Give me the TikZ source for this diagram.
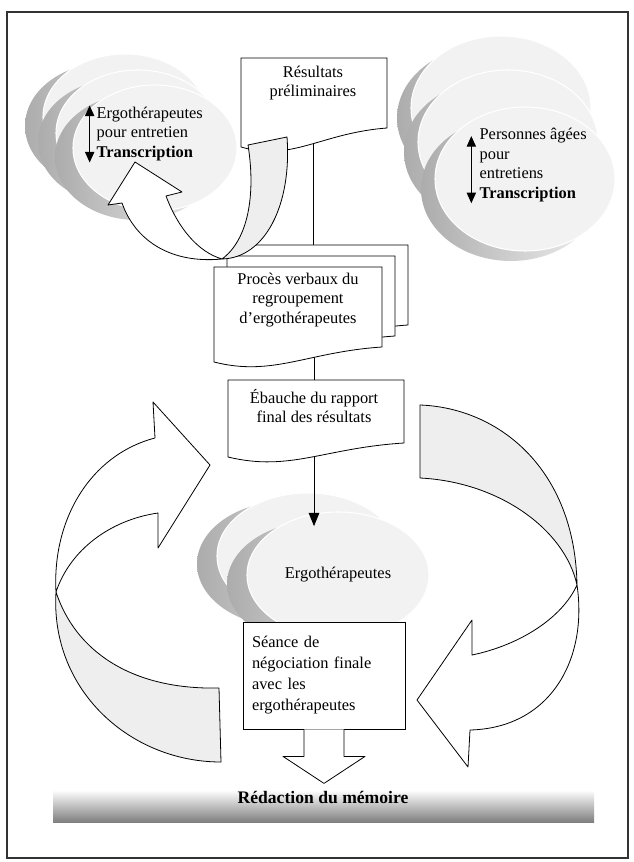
\documentclass[tikz,border=0pt]{standalone}
\usepackage{fontspec}
\setmainfont{Liberation Serif}
\usetikzlibrary{arrows.meta, shapes.geometric, calc, backgrounds}

\tikzset{
  docline/.style={draw=black, fill=white, line width=0.6pt},
  doctext/.style={align=center, inner sep=1pt},
  disctop/.style={fill=gray!10, draw=white, line width=0.8pt},
  discside/.style={left color=gray!65, right color=gray!12},
  ribbon/.style={draw=black, fill=white, line width=0.6pt, line join=round},
  ribbonback/.style={draw=black, fill=gray!13, line width=0.6pt, line join=round},
  twohead/.style={{Triangle[length=8pt,width=7pt]}-{Triangle[length=8pt,width=7pt]}, line width=0.8pt},
}

\begin{document}
\begin{tikzpicture}[x=0.75pt, y=-0.75pt, font=\fontsize{12.3}{14.6}\selectfont]
  \useasboundingbox (0,0) rectangle (633,862);
  \draw[line width=0.8pt, black!80] (7,12) rectangle (628,858);

  % big loop arrows, left and right
  \draw[ribbonback] (56,592) .. controls (50,690) and (130,762) .. (221,762) -- (219,688) .. controls (130,690) and (75,650) .. (56,592) -- cycle;
  \draw[ribbon] (56,592) .. controls (52,520) and (90,455) .. (155,438) -- (153,402) -- (210,465) -- (158,548) -- (158,513) .. controls (110,520) and (70,550) .. (56,592) -- cycle;

  \draw[ribbonback] (420,405) .. controls (500,408) and (575,470) .. (577,585) .. controls (565,530) and (500,482) .. (420,478) -- cycle;
  \draw[ribbon] (577,585) .. controls (588,660) and (550,728) .. (470,730) -- (468,767) -- (417,700) -- (472,620) -- (472,655) .. controls (520,645) and (562,618) .. (577,585) -- cycle;

  % discs top left
  \foreach \cx/\cy in {125/117, 138/133, 155/148} {
    \shade[discside] (\cx-18,\cy+9) ellipse [x radius=82, y radius=63];
    \draw[disctop] (\cx,\cy) ellipse [x radius=82, y radius=63];
  }
  \node[anchor=west, align=left, inner sep=1pt] (ergoL) at (95,134) {Ergothérapeutes\\pour entretien\\\textbf{Transcription}};
  \draw[twohead] ([xshift=-4pt]ergoL.north west) -- ([xshift=-4pt]ergoL.south west);

  % discs top right
  \foreach \cx/\cy in {501/108, 508/142, 525/179} {
    \shade[discside] (\cx-14,\cy+10) ellipse [x radius=90, y radius=72];
    \draw[disctop] (\cx,\cy) ellipse [x radius=90, y radius=72];
  }
  \node[anchor=west, align=left, inner sep=1pt] (pers) at (478,165) {Personnes âgées\\pour\\entretiens\\\textbf{Transcription}};
  \draw[twohead] ([xshift=-5pt,yshift=-7pt]pers.north west) -- ([xshift=-5pt]pers.south west);

  % documents
  \draw[docline] (241,58) -- (387,58) -- (387,128) .. controls (321,133) and (292,162) .. (241,147) -- cycle;
  \node[doctext] (res) at (313,83) {Résultats\\préliminaires};

  \foreach \dx/\dy in {26/-22, 13/-11, 0/0}
    \draw[docline] (214+\dx,267+\dy) -- ++(168,0) -- ++(0,80) .. controls +(-75,5) and +(59,15) .. ++(-168,15) -- cycle;
  \node[doctext] (proc) at (298,300) {Procès verbaux du\\regroupement\\d'ergothérapeutes};

  \draw[docline] (228,380) -- (404,380) -- (404,443) .. controls +(-80,5) and +(62,15) .. (228,457) -- cycle;
  \node[doctext] (eb) at (314,406) {Ébauche du rapport\\final des résultats};

  % arrow back to the interviews
  \draw[ribbonback] (222,259) .. controls (265,258) and (292,205) .. (287,137) -- (248,145) .. controls (256,195) and (248,240) .. (222,259) -- cycle;
  \draw[ribbon] (222,259) .. controls (170,264) and (135,240) .. (122,203) -- (108,205) -- (135,162) -- (182,192) -- (166,196) .. controls (178,228) and (198,252) .. (222,259) -- cycle;

  % final session
  \node[draw, fill=white, line width=0.6pt, minimum width=121.5pt, minimum height=80.25pt, text width=108pt, align=left, font=\fontsize{12.3}{15.75}\selectfont] (seance) at (324,675.5) {Séance de\\négociation finale\\avec les\\ergothérapeutes};

  \node[shade, top color=white, bottom color=black!50, minimum width=405.75pt, minimum height=24pt, inner sep=0pt] (mem) at (323.5,806) {};
  \node[font=\fontsize{13.2}{15}\selectfont\bfseries] (memtxt) at (323,797) {Rédaction du mémoire};

  \draw[ribbon] ($(seance.south)+(-20,0)$) -- ++(0,27) -- ++(-21,0) -- ++(41,27) -- ++(41,-27) -- ++(-21,0) -- ++(0,-27);

  \begin{pgfonlayer}{background}
    % discs bottom
    \shade[discside] (288,564) ellipse [x radius=91, y radius=63];
    \draw[disctop] (308,556) ellipse [x radius=91, y radius=63];
    \shade[discside] (318,584) ellipse [x radius=91, y radius=63];
    \node[ellipse, disctop, minimum width=136.5pt, minimum height=94.5pt, inner sep=0pt] (ergoB) at (338,575) {Ergothérapeutes};

    \draw[line width=0.6pt] (res.south) -- (res.south |- proc.north);
    \draw[line width=0.6pt] (eb.north |- proc.south) -- (eb.north);
    \draw[line width=0.6pt, -{Triangle[length=10pt,width=8pt]}, shorten >=-11pt] (eb.south) -- (eb.south |- ergoB.north);
  \end{pgfonlayer}
\end{tikzpicture}
\end{document}
